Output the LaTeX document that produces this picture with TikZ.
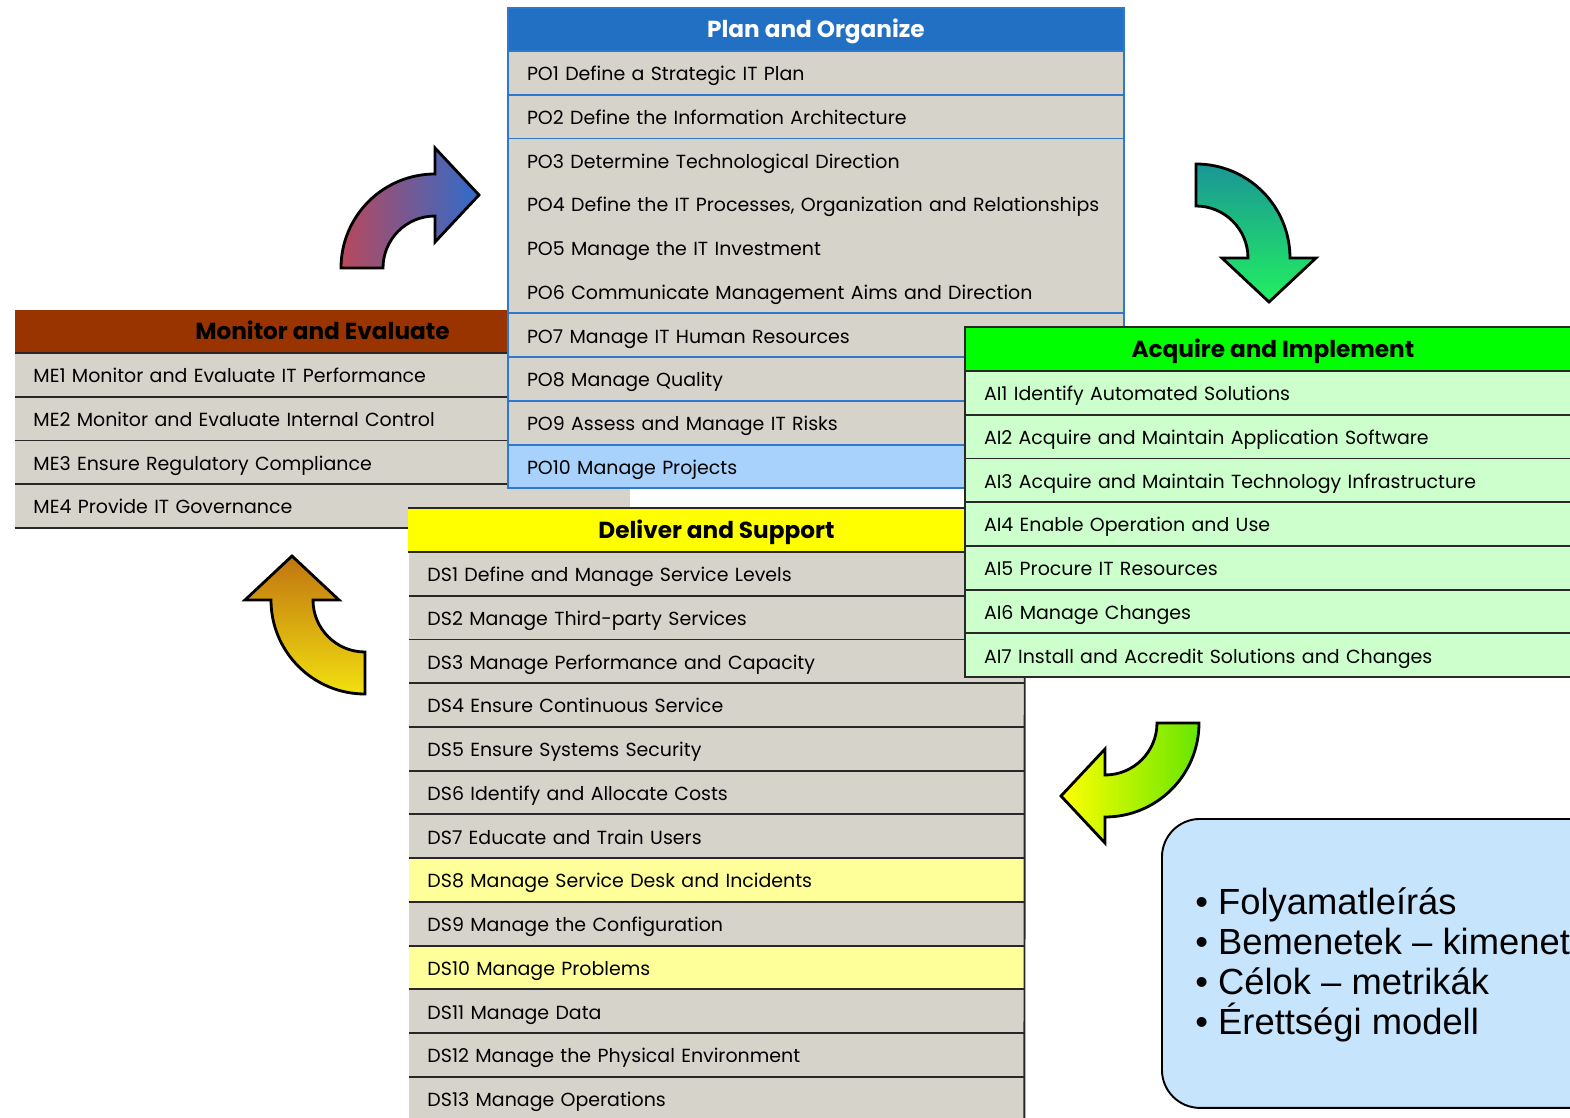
\documentclass[tikz,border=0pt]{standalone}
\usepackage{fontspec}
\setmainfont{Liberation Sans}
\newfontfamily\rowfont{Poppins}
\usetikzlibrary{positioning}

% box colours
\definecolor{pohead}{RGB}{33,112,196}
\definecolor{poline}{RGB}{47,120,208}
\definecolor{pohigh}{RGB}{168,210,251}
\definecolor{mehead}{RGB}{153,51,0}
\definecolor{greyrow}{RGB}{214,211,202}
\definecolor{aihead}{RGB}{0,255,0}
\definecolor{airow}{RGB}{204,255,204}
\definecolor{dshead}{RGB}{255,255,0}
\definecolor{dshigh}{RGB}{255,255,153}
\definecolor{infofill}{RGB}{198,229,253}
\definecolor{rowline}{RGB}{40,40,40}

% arrow colours
\definecolor{arrred}{RGB}{184,72,92}
\definecolor{arrblue}{RGB}{47,108,204}
\definecolor{arrteal}{RGB}{26,150,150}
\definecolor{arrgreen}{RGB}{34,240,96}
\definecolor{arrlime}{RGB}{102,230,0}
\definecolor{arryellow}{RGB}{255,255,0}
\definecolor{arrbrown}{RGB}{192,116,16}
\definecolor{arrgold}{RGB}{242,224,16}

\tikzset{
   head/.style={rectangle, anchor=north west, inner sep=0pt, outer sep=0pt,
      minimum width=12.32cm, minimum height=0.86cm,
      text height=11pt, text depth=1.8pt,
      font=\rowfont\bfseries\fontsize{13.2}{15}\selectfont},
   row/.style={rectangle, inner sep=0pt, inner xsep=0.38cm, outer sep=0pt,
      text width=11.56cm, minimum height=0.875cm, align=left,
      text height=10pt, text depth=1.2pt,
      fill=greyrow, font=\rowfont\fontsize{10.8}{13}\selectfont},
   sepline/.style={rowline, line width=1.1pt},
   blueline/.style={poline, line width=1.1pt},
   bendarrow/.style={draw=black, line width=1.6pt, line join=miter},
   infobox/.style={rectangle, anchor=north west, draw=black, line width=1.1pt,
      fill=infofill, rounded corners=0.76cm, minimum width=9.6cm,
      minimum height=5.78cm},
   infotext/.style={anchor=north west, inner sep=0pt, align=left,
      font=\fontsize{20.7}{22.8}\selectfont}
}

% curved block arrow: centre x, centre y, rotation, shading
\newcommand{\cobitarrow}[4]{%
   \begin{scope}[shift={(#1,#2)}, x=0.02cm, y=0.02cm, rotate=#3]
      \draw[bendarrow, #4] (-94,0) arc[start angle=180, end angle=90, radius=94]
         -- (0,120) -- (44,73) -- (0,26) -- (0,52)
         arc[start angle=90, end angle=180, radius=52] -- cycle;
   \end{scope}}

\begin{document}
\begin{tikzpicture}[x=0.02cm, y=-0.02cm]
   \useasboundingbox (0,0) rectangle (1570,1118);
   \clip (0,0) rectangle (1570,1118);

   % Monitor and Evaluate
   \node[head, fill=mehead, minimum width=12.30cm] at (15,310) (me0) {Monitor and Evaluate};
   \node[row, below=0pt of me0] (me1) {ME1 Monitor and Evaluate IT Performance};
   \node[row, below=0pt of me1] (me2) {ME2 Monitor and Evaluate Internal Control};
   \node[row, below=0pt of me2] (me3) {ME3 Ensure Regulatory Compliance};
   \node[row, below=0pt of me3] (me4) {ME4 Provide IT Governance};
   \draw[sepline] (me0.south west) -- (me0.south east);
   \draw[sepline] (me1.south west) -- (me1.south east);
   \draw[sepline] (me2.south west) -- (me2.south east);
   \draw[sepline] (me3.south west) -- (me3.south east);
   \draw[sepline] (me4.south west) -- (me4.south east);

   % Plan and Organize
   \node[head, fill=pohead, text=white] at (508,8) (po0) {Plan and Organize};
   \node[row, below=0pt of po0] (po1) {PO1 Define a Strategic IT Plan};
   \node[row, below=0pt of po1] (po2) {PO2 Define the Information Architecture};
   \node[row, below=0pt of po2] (po3) {PO3 Determine Technological Direction};
   \node[row, below=0pt of po3] (po4) {PO4 Define the IT Processes, Organization and Relationships};
   \node[row, below=0pt of po4] (po5) {PO5 Manage the IT Investment};
   \node[row, below=0pt of po5] (po6) {PO6 Communicate Management Aims and Direction};
   \node[row, below=0pt of po6] (po7) {PO7 Manage IT Human Resources};
   \node[row, below=0pt of po7] (po8) {PO8 Manage Quality};
   \node[row, below=0pt of po8] (po9) {PO9 Assess and Manage IT Risks};
   \node[row, fill=pohigh, below=0pt of po9] (po10) {PO10 Manage Projects};
   \draw[blueline] (po0.south west) -- (po0.south east);
   \draw[blueline] (po1.south west) -- (po1.south east);
   \draw[blueline] (po2.south west) -- (po2.south east);
   \draw[blueline] (po6.south west) -- (po6.south east);
   \draw[blueline] (po7.south west) -- (po7.south east);
   \draw[blueline] (po8.south west) -- (po8.south east);
   \draw[blueline] (po9.south west) -- (po9.south east);
   \draw[blueline] (po0.north west) rectangle (po10.south east);

   % Deliver and Support
   \node[head, fill=dshead, minimum width=12.34cm, minimum height=0.88cm] at (408,508) (ds0) {Deliver and Support};
   \node[row, below=0pt of ds0] (ds1) {DS1 Define and Manage Service Levels};
   \node[row, below=0pt of ds1] (ds2) {DS2 Manage Third-party Services};
   \node[row, below=0pt of ds2] (ds3) {DS3 Manage Performance and Capacity};
   \node[row, below=0pt of ds3] (ds4) {DS4 Ensure Continuous Service};
   \node[row, below=0pt of ds4] (ds5) {DS5 Ensure Systems Security};
   \node[row, below=0pt of ds5] (ds6) {DS6 Identify and Allocate Costs};
   \node[row, below=0pt of ds6] (ds7) {DS7 Educate and Train Users};
   \node[row, fill=dshigh, below=0pt of ds7] (ds8) {DS8 Manage Service Desk and Incidents};
   \node[row, below=0pt of ds8] (ds9) {DS9 Manage the Configuration};
   \node[row, fill=dshigh, below=0pt of ds9] (ds10) {DS10 Manage Problems};
   \node[row, below=0pt of ds10] (ds11) {DS11 Manage Data};
   \node[row, below=0pt of ds11] (ds12) {DS12 Manage the Physical Environment};
   \node[row, below=0pt of ds12] (ds13) {DS13 Manage Operations};
   \draw[sepline] (ds0.north west) -- (ds0.north east) -- (ds13.south east);
   \draw[sepline] (ds0.south west) -- (ds0.south east);
   \draw[sepline] (ds1.south west) -- (ds1.south east);
   \draw[sepline] (ds2.south west) -- (ds2.south east);
   \draw[sepline] (ds3.south west) -- (ds3.south east);
   \draw[sepline] (ds4.south west) -- (ds4.south east);
   \draw[sepline] (ds5.south west) -- (ds5.south east);
   \draw[sepline] (ds6.south west) -- (ds6.south east);
   \draw[sepline] (ds7.south west) -- (ds7.south east);
   \draw[sepline] (ds8.south west) -- (ds8.south east);
   \draw[sepline] (ds9.south west) -- (ds9.south east);
   \draw[sepline] (ds10.south west) -- (ds10.south east);
   \draw[sepline] (ds11.south west) -- (ds11.south east);
   \draw[sepline] (ds12.south west) -- (ds12.south east);

   % Acquire and Implement
   \node[head, fill=aihead, minimum height=0.88cm] at (965,327) (ai0) {Acquire and Implement};
   \node[row, fill=airow, below=0pt of ai0] (ai1) {AI1 Identify Automated Solutions};
   \node[row, fill=airow, below=0pt of ai1] (ai2) {AI2 Acquire and Maintain Application Software};
   \node[row, fill=airow, below=0pt of ai2] (ai3) {AI3 Acquire and Maintain Technology Infrastructure};
   \node[row, fill=airow, below=0pt of ai3] (ai4) {AI4 Enable Operation and Use};
   \node[row, fill=airow, below=0pt of ai4] (ai5) {AI5 Procure IT Resources};
   \node[row, fill=airow, below=0pt of ai5] (ai6) {AI6 Manage Changes};
   \node[row, fill=airow, below=0pt of ai6] (ai7) {AI7 Install and Accredit Solutions and Changes};
   \draw[sepline] (ai0.north west) rectangle (ai7.south east);
   \draw[sepline] (ai0.south west) -- (ai0.south east);
   \draw[sepline] (ai1.south west) -- (ai1.south east);
   \draw[sepline] (ai2.south west) -- (ai2.south east);
   \draw[sepline] (ai3.south west) -- (ai3.south east);
   \draw[sepline] (ai4.south west) -- (ai4.south east);
   \draw[sepline] (ai5.south west) -- (ai5.south east);
   \draw[sepline] (ai6.south west) -- (ai6.south east);

   % cycle arrows
   \cobitarrow{435}{268}{0}{left color=arrred, right color=arrblue}
   \cobitarrow{1196}{258}{-90}{top color=arrteal, bottom color=arrgreen}
   \cobitarrow{1105}{723}{180}{left color=arryellow, right color=arrlime}
   \cobitarrow{365}{600}{90}{top color=arrbrown, bottom color=arrgold}

   % summary box
   \node[infobox] at (1161,818) (info) {};
   \node[infotext] at (1195,887) (infotxt) {• Folyamatleírás\\• Bemenetek – kimenetek\\• Célok – metrikák\\• Érettségi modell};
\end{tikzpicture}
\end{document}
